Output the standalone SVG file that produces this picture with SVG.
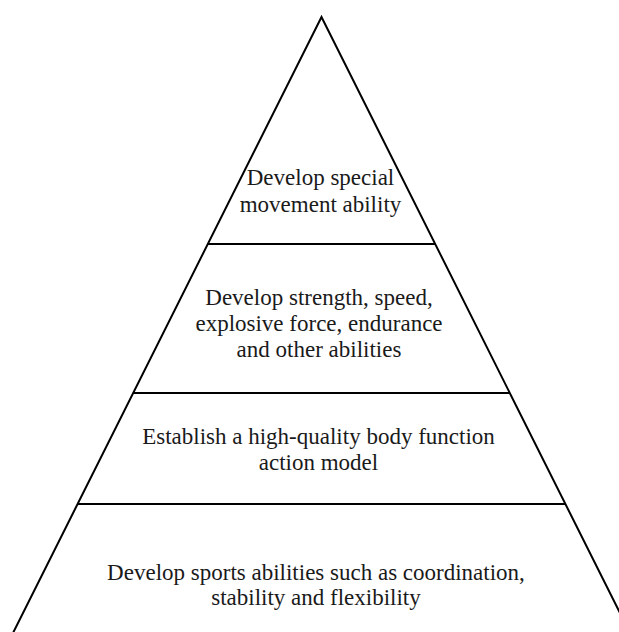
<svg xmlns="http://www.w3.org/2000/svg" width="619" height="632" viewBox="0 0 619 632">
  <style>
    .edge { stroke: #000; stroke-width: 2; fill: none; stroke-linecap: butt; }
    .label { font-family: "Liberation Serif", "Times New Roman", serif; font-size: 23px; fill: #1a1a1a; text-anchor: middle; }
  </style>
  <rect width="619" height="632" fill="#fff"/>
  <!-- pyramid outline and tier dividers -->
  <g id="connectors">
    <polyline class="edge" points="13,633 321.5,17 630,633"/>
    <line class="edge" x1="208" y1="244" x2="435" y2="244"/>
    <line class="edge" x1="133" y1="393" x2="510" y2="393"/>
    <line class="edge" x1="78" y1="504" x2="565" y2="504"/>
  </g>
  <g id="tier-top">
    <text class="label" x="320.5" y="185">Develop special</text>
    <text class="label" x="320.5" y="212">movement ability</text>
  </g>
  <g id="tier-second">
    <text class="label" x="319" y="305">Develop strength, speed,</text>
    <text class="label" x="319" y="331">explosive force, endurance</text>
    <text class="label" x="319" y="357">and other abilities</text>
  </g>
  <g id="tier-third">
    <text class="label" x="318.5" y="444">Establish a high-quality body function</text>
    <text class="label" x="318.5" y="470">action model</text>
  </g>
  <g id="tier-base">
    <text class="label" x="316" y="580">Develop sports abilities such as coordination,</text>
    <text class="label" x="316" y="605">stability and flexibility</text>
  </g>
</svg>
